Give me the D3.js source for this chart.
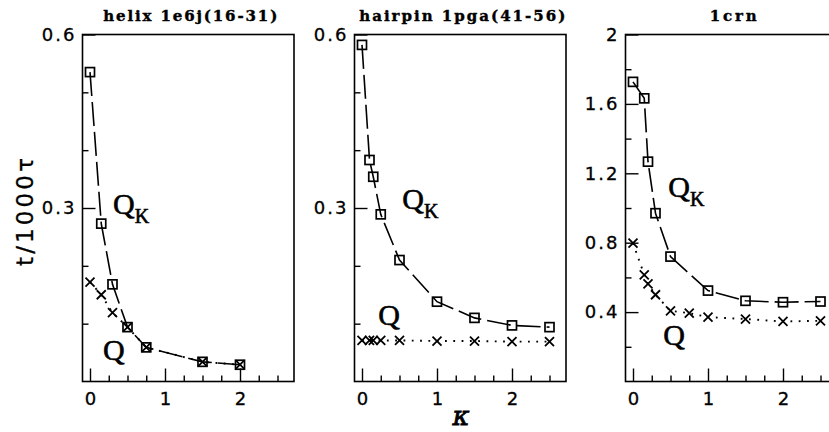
<!DOCTYPE html>
<html>
<head>
<meta charset="utf-8">
<script src="https://cdn.jsdelivr.net/npm/d3@7"></script>
<style>
body { margin: 0; background: #fff; }
</style>
</head>
<body>
<div id="chart"></div>
<script>
// folding times t/1000tau against kappa
const helixKappa = [0, 0.15, 0.3, 0.5, 0.75, 1.5, 2];
const helixQK = [0.535, 0.273, 0.168, 0.094, 0.059, 0.034, 0.029];
const helixQ = [0.172, 0.150, 0.119, 0.094, 0.059, 0.034, 0.029];

const hairpinKappa = [0, 0.1, 0.15, 0.25, 0.5, 1, 1.5, 2, 2.5];
const hairpinQK = [0.582, 0.383, 0.354, 0.289, 0.210, 0.138, 0.110, 0.097, 0.094];
const hairpinQ = [0.071, 0.071, 0.071, 0.071, 0.071, 0.070, 0.070, 0.069, 0.069];

const crnKappaK = [0, 0.15, 0.2, 0.3, 0.5, 1, 1.5, 2, 2.5];
const crnQK = [1.727, 1.632, 1.267, 0.970, 0.720, 0.524, 0.465, 0.457, 0.461];
const crnKappa = [0, 0.15, 0.2, 0.3, 0.5, 0.75, 1, 1.5, 2, 2.5];
const crnQ = [0.797, 0.615, 0.563, 0.500, 0.407, 0.394, 0.371, 0.360, 0.346, 0.350];

const titles = ["helix 1e6j(16-31)", "hairpin 1pga(41-56)", "1crn"];
const xTicks = [0, 1, 2];
const xTickLabels = ["0", "1", "2"];
const xMinorTicks = [0.25, 0.5, 0.75, 1.25, 1.5, 1.75, 2.25, 2.5];
const yTicksSmall = [0.3, 0.6];
const yTickLabelsSmall = ["0.3", "0.6"];
const yMinorSmall = [0.1, 0.2, 0.4, 0.5];
const yTicksCrn = [0.4, 0.8, 1.2, 1.6, 2];
const yTickLabelsCrn = ["0.4", "0.8", "1.2", "1.6", "2"];
const yMinorCrn = [0.2, 0.6, 1.0, 1.4, 1.8];

const zip = (xs, ys) => xs.map((v, i) => [v, ys[i]]);

const panels = [
	{ left: 82.5, title: titles[0], titleLen: 174, yMax: 0.6,
	  yTicks: yTicksSmall, yLabels: yTickLabelsSmall, yMinor: yMinorSmall,
	  qk: zip(helixKappa, helixQK), q: zip(helixKappa, helixQ),
	  qkPos: [0.307, 0.289], qPos: [0.173, 0.038] },
	{ left: 354.5, title: titles[1], titleLen: 206, yMax: 0.6,
	  yTicks: yTicksSmall, yLabels: yTickLabelsSmall, yMinor: yMinorSmall,
	  qk: zip(hairpinKappa, hairpinQK), q: zip(hairpinKappa, hairpinQ),
	  qkPos: [0.537, 0.298], qPos: [0.217, 0.098] },
	{ left: 625.5, title: titles[2], titleLen: 47, yMax: 2,
	  yTicks: yTicksCrn, yLabels: yTickLabelsCrn, yMinor: yMinorCrn,
	  qk: zip(crnKappaK, crnQK), q: zip(crnKappa, crnQ),
	  qkPos: [0.47, 1.064], qPos: [0.404, 0.212] }
];

let width = 829;
let height = 432;
let plotTop = 34.5, plotBottom = 381.5, plotWidth = 211.5;

let svg = d3.select("#chart")
	.append("svg")
	.attr("width", width)
	.attr("height", height);

svg.append("rect")
	.attr("width", width)
	.attr("height", height)
	.attr("fill", "#fff");

function styleAxis(g) {
	g.select(".domain").remove();
	g.selectAll("line").attr("stroke", "#000").attr("stroke-width", 1.4);
	g.selectAll("text")
		.attr("fill", "#000")
		.attr("stroke", "#000")
		.attr("stroke-width", 0.3)
		.attr("font-family", "DejaVu Sans")
		.attr("font-size", 18);
}

panels.forEach(p => {
	let xScale = d3.scaleLinear()
		.domain([-0.1, 2.72])
		.range([p.left, p.left + plotWidth]);
	let yScale = d3.scaleLinear()
		.domain([0, p.yMax])
		.range([plotBottom, plotTop]);

	let g = svg.append("g");

	// x ticks point into the plot
	g.append("g")
		.attr("transform", "translate(0," + plotBottom + ")")
		.call(d3.axisBottom(xScale).tickValues(xMinorTicks).tickSize(-6).tickFormat(""))
		.call(styleAxis);
	g.append("g")
		.attr("transform", "translate(0," + plotBottom + ")")
		.call(d3.axisBottom(xScale).tickValues(xTicks).tickSize(-13).tickPadding(11)
			.tickFormat((d, i) => xTickLabels[i]))
		.call(styleAxis);

	// y ticks
	g.append("g")
		.attr("transform", "translate(" + p.left + ",0)")
		.call(d3.axisLeft(yScale).tickValues(p.yMinor).tickSize(-6).tickFormat(""))
		.call(styleAxis);
	g.append("g")
		.attr("transform", "translate(" + p.left + ",0)")
		.call(d3.axisLeft(yScale).tickValues(p.yTicks).tickSize(-13).tickPadding(6)
			.tickFormat((d, i) => p.yLabels[i]))
		.call(styleAxis)
		.call(a => a.selectAll("text").attr("letter-spacing", 2));

	// frame
	g.append("rect")
		.attr("x", p.left)
		.attr("y", plotTop)
		.attr("width", plotWidth)
		.attr("height", plotBottom - plotTop)
		.attr("fill", "none")
		.attr("stroke", "#000")
		.attr("stroke-width", 1.6);

	// title
	g.append("text")
		.attr("x", p.left + plotWidth / 2 + 2)
		.attr("y", 21)
		.attr("text-anchor", "middle")
		.attr("font-family", "DejaVu Serif")
		.attr("font-weight", "bold")
		.attr("font-size", 15)
		.attr("stroke", "#000")
		.attr("stroke-width", 0.4)
		.attr("textLength", p.titleLen)
		.attr("lengthAdjust", "spacing")
		.text(p.title);

	let line = d3.line()
		.x(d => xScale(d[0]))
		.y(d => yScale(d[1]));

	// Q_K: long dashes, Q: dotted
	g.append("path")
		.datum(p.qk)
		.attr("d", line)
		.attr("fill", "none")
		.attr("stroke", "#000")
		.attr("stroke-width", 1.6)
		.attr("stroke-dasharray", "24,6");
	g.append("path")
		.datum(p.q)
		.attr("d", line)
		.attr("fill", "none")
		.attr("stroke", "#000")
		.attr("stroke-width", 1.9)
		.attr("stroke-dasharray", "1.8,6.5");

	// square markers
	g.selectAll(".sq")
		.data(p.qk)
		.enter()
		.append("rect")
		.attr("x", d => xScale(d[0]) - 4.5)
		.attr("y", d => yScale(d[1]) - 4.5)
		.attr("width", 9)
		.attr("height", 9)
		.attr("fill", "none")
		.attr("stroke", "#000")
		.attr("stroke-width", 1.7);

	// cross markers
	g.selectAll(".cross")
		.data(p.q)
		.enter()
		.append("path")
		.attr("transform", d => "translate(" + xScale(d[0]) + "," + yScale(d[1]) + ")")
		.attr("d", "M-4.5,-4.5L4.5,4.5M-4.5,4.5L4.5,-4.5")
		.attr("stroke", "#000")
		.attr("stroke-width", 1.8);

	// curve labels
	let qk = g.append("text")
		.attr("x", xScale(p.qkPos[0]))
		.attr("y", yScale(p.qkPos[1]))
		.attr("font-family", "Liberation Serif")
		.attr("font-size", 30)
		.attr("stroke", "#000")
		.attr("stroke-width", 0.6)
		.text("Q");
	qk.append("tspan")
		.attr("font-size", 20)
		.attr("dy", 9)
		.text("K");

	g.append("text")
		.attr("x", xScale(p.qPos[0]))
		.attr("y", yScale(p.qPos[1]))
		.attr("font-family", "Liberation Serif")
		.attr("font-size", 30)
		.attr("stroke", "#000")
		.attr("stroke-width", 0.6)
		.text("Q");
});

// Y-axis label
svg.append("text")
	.attr("transform", "translate(25,212) rotate(-90)")
	.attr("text-anchor", "middle")
	.attr("dominant-baseline", "central")
	.attr("font-family", "DejaVu Sans")
	.attr("font-size", 23)
	.attr("stroke", "#000")
	.attr("stroke-width", 0.3)
	.attr("textLength", 108)
	.attr("lengthAdjust", "spacing")
	.text("t/1000τ");

// X-axis label
svg.append("text")
	.attr("x", 461)
	.attr("y", 425)
	.attr("text-anchor", "middle")
	.attr("font-family", "DejaVu Serif")
	.attr("font-style", "italic")
	.attr("font-size", 26)
	.attr("stroke", "#000")
	.attr("stroke-width", 0.8)
	.text("κ");
</script>
</body>
</html>
